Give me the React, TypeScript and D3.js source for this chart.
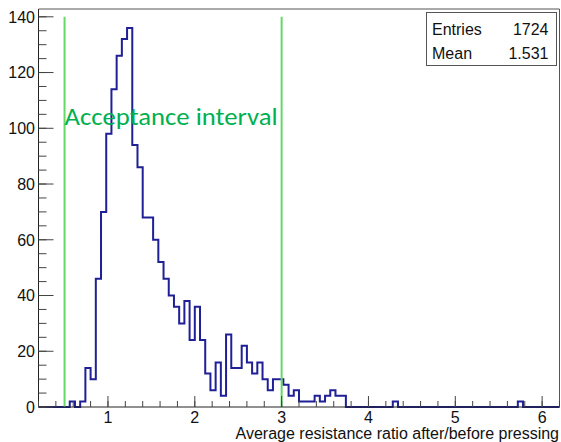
import React from "react";
import * as d3 from "d3";

const W = 561;
const H = 442;

// Histogram: 100 bins from 0.2 to 6.2 (width 0.06)
const binLow = 0.2;
const binWidth = 0.06;
const counts = [
  0, 0, 0, 0, 0, 0, 2, 0, 2, 14,
  10, 46, 70, 98, 114, 126, 132, 136, 94, 86,
  68, 68, 60, 52, 46, 40, 36, 30, 38, 24,
  36, 24, 12, 6, 16, 4, 26, 14, 14, 22,
  16, 12, 16, 10, 6, 10, 10, 8, 4, 6,
  2, 2, 2, 4, 2, 4, 6, 4, 4, 0,
  0, 0, 0, 0, 0, 0, 0, 0, 2, 0,
  0, 0, 0, 0, 0, 0, 0, 0, 0, 0,
  0, 0, 0, 0, 0, 0, 0, 0, 0, 0,
  0, 0, 2, 0, 0, 0, 0, 0, 0, 0,
];

const xDomain = [0.2, 6.2];
const yMax = 142.8;
const xTickValues = [1, 2, 3, 4, 5, 6];
const yTickValues = [0, 20, 40, 60, 80, 100, 120, 140];
const acceptanceBounds = [0.5, 3.0];
const acceptanceTop = 140;
const statsLabels = ["Entries", "Mean"];
const statsValues = ["1724", "1.531"];
const xTitle = "Average resistance ratio after/before pressing";
const annotation = "Acceptance interval";

export default function App() {
  const left = 38.5;
  const right = 559.5;
  const top = 9;
  const bottom = 407;

  const x = d3.scaleLinear().domain(xDomain).range([left, right]);
  const y = d3.scaleLinear().domain([0, yMax]).range([bottom, top]);

  const pts: [number, number][] = [[binLow, 0]];
  counts.forEach((c, i) => {
    const a = binLow + i * binWidth;
    const b = a + binWidth;
    pts.push([a, c]);
    pts.push([b, c]);
  });
  pts.push([binLow + counts.length * binWidth, 0]);
  const line = d3
    .line<[number, number]>()
    .x((d) => x(d[0]))
    .y((d) => y(d[1]));

  const minorX = d3.range(0.2, 6.2001, 0.2).map((v) => +v.toFixed(2));
  const minorY = d3.range(0, yMax, 5);

  const font = "'Liberation Sans', Arial, Helvetica, sans-serif";

  return (
    <svg
      width={W}
      height={H}
      style={{ position: "absolute", left: 0, top: 0, background: "#fff" }}
    >
      <rect x={0} y={0} width={W} height={H} fill="#fff" />
      {/* frame */}
      <line x1={left} x2={right} y1={top} y2={top} stroke="#555" strokeWidth={1} />
      <line x1={right} x2={right} y1={top} y2={bottom} stroke="#555" strokeWidth={1} />

      {/* histogram */}
      <path d={line(pts) || ""} fill="none" stroke="#1f1f96" strokeWidth={2} strokeLinejoin="miter" />

      {/* acceptance lines */}
      {acceptanceBounds.map((b) => (
        <line
          key={b}
          x1={x(b)}
          x2={x(b)}
          y1={y(acceptanceTop)}
          y2={bottom}
          stroke="#66d866"
          strokeWidth={2}
        />
      ))}
      <text
        x={x(0.5)}
        y={124.5}
        fill="#00b050"
        fontFamily="Carlito, Lato, 'Open Sans', sans-serif"
        fontSize={25}
        textLength={213}
        lengthAdjust="spacingAndGlyphs"
      >
        {annotation}
      </text>

      {/* axes */}
      <line x1={left} x2={right} y1={bottom} y2={bottom} stroke="#222" strokeWidth={1} />
      <line x1={left} x2={left} y1={top} y2={bottom} stroke="#222" strokeWidth={1} />

      {minorY.map((v) => (
        <line key={"my" + v} x1={left} x2={left + 8} y1={y(v)} y2={y(v)} stroke="#444" strokeWidth={1} />
      ))}
      {yTickValues.map((v) => (
        <g key={"y" + v}>
          <line x1={left} x2={left + 15} y1={y(v)} y2={y(v)} stroke="#444" strokeWidth={1} />
          <text
            x={35}
            y={y(v)}
            dy="0.36em"
            textAnchor="end"
            fontFamily={font}
            fontSize={16}
            fill="#111"
          >
            {v}
          </text>
        </g>
      ))}

      {minorX.map((v) => (
        <line key={"mx" + v} x1={x(v)} x2={x(v)} y1={bottom} y2={bottom - 6} stroke="#444" strokeWidth={1} />
      ))}
      {xTickValues.map((v) => (
        <g key={"x" + v}>
          <line x1={x(v)} x2={x(v)} y1={bottom} y2={bottom - 11} stroke="#444" strokeWidth={1} />
          <text
            x={x(v)}
            y={423}
            textAnchor="middle"
            fontFamily={font}
            fontSize={16}
            fill="#111"
          >
            {v}
          </text>
        </g>
      ))}
      <text
        x={559}
        y={439}
        textAnchor="end"
        fontFamily={font}
        fontSize={16}
        fill="#111"
      >
        {xTitle}
      </text>

      {/* stats box */}
      <rect x={426.5} y={12.5} width={130} height={53} fill="#fff" stroke="#555" strokeWidth={1} />
      {statsLabels.map((lab, i) => (
        <g key={lab}>
          <text x={432} y={34.5 + i * 24} fontFamily={font} fontSize={16} fill="#111">
            {lab}
          </text>
          <text x={548.5} y={34.5 + i * 24} textAnchor="end" fontFamily={font} fontSize={16} fill="#111">
            {statsValues[i]}
          </text>
        </g>
      ))}
    </svg>
  );
}
